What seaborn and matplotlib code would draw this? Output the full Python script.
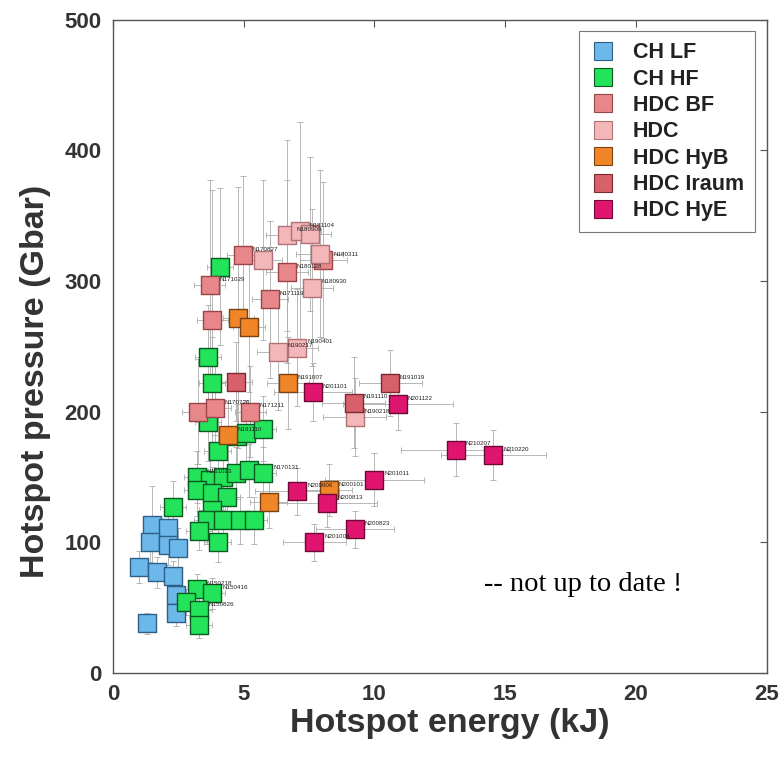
import numpy as np
import pandas as pd
import matplotlib
matplotlib.use("Agg")
import matplotlib.pyplot as plt
from matplotlib.lines import Line2D
import seaborn as sns

# ---- data: hotspot energy (kJ), hotspot pressure (Gbar) and uncertainties ----
series_names = ["CH LF", "CH HF", "HDC BF", "HDC", "HDC HyB", "HDC Iraum", "HDC HyE"]
series_colors = ["#6CB8EA", "#22E35A", "#E8878A", "#F3B7BA", "#F08628", "#D8606B", "#E0156F"]
edge_colors = ["#2E5F86", "#0B5A22", "#9A4448", "#B07276", "#7A4210", "#7E2830", "#6E0834"]

ch_lf_energy = [1.5, 2.1, 1.4, 2.1, 2.5, 1.0, 1.7, 2.3, 2.4, 2.4, 1.3]
ch_lf_pressure = [113, 111, 100, 98, 96, 81, 77, 74, 60, 46, 38]
ch_lf_xerr = [0.3, 0.3, 0.3, 0.3, 0.3, 0.3, 0.3, 0.3, 0.3, 0.3, 0.3]
ch_lf_yerr = [30, 15, 15, 15, 15, 12, 12, 12, 10, 10, 8]

ch_hf_energy = [4.1, 3.65, 3.8, 3.65, 4.0, 4.75, 5.1, 5.75, 3.2, 3.7, 4.2, 4.7, 5.2, 5.75,
                3.2, 3.8, 4.35, 2.3, 3.8, 3.6, 4.2, 4.85, 5.4, 3.3, 4.0, 3.2, 3.8, 2.8, 3.3, 3.3]
ch_hf_pressure = [311, 242, 222, 192, 170, 181, 184, 187, 150, 148, 150, 153, 155, 153,
                  140, 138, 135, 127, 125, 117, 117, 117, 117, 109, 100, 64, 61, 54, 48, 37]
ch_hf_xerr = [0.5] * 30
ch_hf_yerr = [60, 40, 35, 30, 30, 25, 25, 25, 20, 20, 20, 20, 20, 20,
              20, 20, 20, 20, 18, 18, 18, 18, 18, 15, 15, 12, 12, 10, 10, 10]

hdc_bf_energy = [4.98, 3.7, 3.8, 6.65, 6.0, 8.05, 3.25, 3.9, 5.25]
hdc_bf_pressure = [320, 297, 270, 307, 286, 316, 200, 203, 200]
hdc_bf_xerr = [0.6, 0.6, 0.6, 0.8, 0.7, 0.9, 0.6, 0.6, 0.6]
hdc_bf_yerr = [60, 80, 100, 70, 60, 60, 40, 35, 35]

hdc_energy = [6.65, 7.15, 7.55, 5.75, 7.6, 6.3, 7.05, 9.25, 7.9]
hdc_pressure = [335, 338, 336, 316, 295, 246, 249, 196, 321]
hdc_xerr = [0.8, 0.8, 0.8, 0.7, 0.8, 0.8, 0.8, 1.2, 0.9]
hdc_yerr = [73, 84, 59, 61, 60, 45, 45, 30, 64]

hyb_energy = [4.8, 5.2, 6.7, 4.4, 5.95, 8.25]
hyb_pressure = [272, 265, 222, 182, 131, 140]
hyb_xerr = [0.6, 0.6, 0.8, 0.6, 0.7, 0.9]
hyb_yerr = [100, 50, 35, 25, 20, 20]

iraum_energy = [10.6, 9.2, 4.7]
iraum_pressure = [222, 207, 223]
iraum_xerr = [1.2, 1.2, 0.6]
iraum_yerr = [25, 35, 30]

hye_energy = [7.65, 10.9, 13.1, 14.55, 10.0, 7.05, 8.2, 9.25, 7.7]
hye_pressure = [215, 206, 171, 167, 148, 139, 130, 110, 100]
hye_xerr = [1.5, 2.1, 2.1, 2.0, 1.9, 1.6, 1.9, 1.5, 1.2]
hye_yerr = [22, 20, 20, 19, 20, 18, 18, 14, 14]

shot_labels = {
    "HDC BF": ["N170827", "N171029", "", "N180128", "N171119", "N180311", "", "N170726", "N171211"],
    "HDC": ["N180909", "N181104", "", "", "N180930", "N190217", "N190401", "N190218", ""],
    "HDC HyB": ["", "", "N191007", "N191110", "", "N200101"],
    "HDC Iraum": ["N191019", "N191110", ""],
    "HDC HyE": ["N201101", "N201122", "N210207", "N210220", "N201011", "N200906", "N200813", "N200823", "N201004"],
    "CH HF": ["", "", "", "", "", "", "", "", "N161023", "", "", "", "", "N170131",
              "", "", "", "", "", "", "", "", "", "", "", "N150218", "N150416", "", "N150826", ""],
}

groups = [
    ("CH LF", ch_lf_energy, ch_lf_pressure, ch_lf_xerr, ch_lf_yerr),
    ("CH HF", ch_hf_energy, ch_hf_pressure, ch_hf_xerr, ch_hf_yerr),
    ("HDC BF", hdc_bf_energy, hdc_bf_pressure, hdc_bf_xerr, hdc_bf_yerr),
    ("HDC", hdc_energy, hdc_pressure, hdc_xerr, hdc_yerr),
    ("HDC HyB", hyb_energy, hyb_pressure, hyb_xerr, hyb_yerr),
    ("HDC Iraum", iraum_energy, iraum_pressure, iraum_xerr, iraum_yerr),
    ("HDC HyE", hye_energy, hye_pressure, hye_xerr, hye_yerr),
]

frames = []
for name, xe, ye, xr, yr in groups:
    frames.append(pd.DataFrame({"series": name, "energy": xe, "pressure": ye,
                                "xerr": xr, "yerr": yr}))
df = pd.concat(frames, ignore_index=True)

# ---- figure ----
sns.set_theme(style="white")
plt.rcParams["font.family"] = ["Liberation Sans", "DejaVu Sans"]

fig = plt.figure(figsize=(7.84, 7.57), dpi=100)
ax = fig.add_axes([0.144, 0.111, 0.834, 0.863])

# error bars first, beneath the markers
ax.errorbar(df["energy"], df["pressure"], xerr=df["xerr"], yerr=df["yerr"],
            fmt="none", ecolor="#ABABAB", elinewidth=0.7, capsize=2.5,
            capthick=0.7, alpha=0.85, zorder=1)

palette = dict(zip(series_names, series_colors))
edges = dict(zip(series_names, edge_colors))
for name in series_names:
    sub = df[df["series"] == name]
    sns.scatterplot(data=sub, x="energy", y="pressure", ax=ax, marker="s", s=180,
                    color=palette[name], edgecolor=edges[name], linewidth=1.0,
                    legend=False, zorder=3)

# shot-number annotations
for name, labels in shot_labels.items():
    sub = df[df["series"] == name].reset_index(drop=True)
    for i, lab in enumerate(labels):
        if lab:
            ax.annotate(lab, (sub.loc[i, "energy"], sub.loc[i, "pressure"]),
                        xytext=(7, 3), textcoords="offset points",
                        fontsize=4.5, color="#222222", zorder=4)

ax.set_xlim(0, 25)
ax.set_ylim(0, 500)
ax.set_xticks([0, 5, 10, 15, 20, 25])
ax.set_yticks([0, 100, 200, 300, 400, 500])
ax.tick_params(direction="in", length=5, width=0.8, top=True, right=True,
               labelsize=16, labelcolor="#333333", color="#555555", pad=8)
for lab in ax.get_xticklabels() + ax.get_yticklabels():
    lab.set_fontweight("bold")
for sp in ax.spines.values():
    sp.set_color("#555555")
    sp.set_linewidth(1.0)

ax.set_xlabel("Hotspot energy (kJ)", fontsize=24.5, fontweight="bold", color="#333333", labelpad=2)
ax.set_ylabel("Hotspot pressure (Gbar)", fontsize=24.5, fontweight="bold", color="#333333", labelpad=10)
ax.xaxis.label.set_x(0.515)
ax.yaxis.label.set_y(0.447)

handles = [Line2D([0], [0], marker="s", linestyle="none", markersize=13,
                  markerfacecolor=c, markeredgecolor=e, markeredgewidth=0.8)
           for c, e in zip(series_colors, edge_colors)]
leg = ax.legend(handles, series_names, loc="upper right", bbox_to_anchor=(0.982, 0.982),
                borderaxespad=0, frameon=True, fancybox=False, edgecolor="#777777",
                framealpha=1, prop={"weight": "bold", "size": 15.5}, handletextpad=0.8,
                labelspacing=0.25, borderpad=0.5, handlelength=1.2)
leg.get_frame().set_linewidth(0.8)
for t in leg.get_texts():
    t.set_color("#222222")

ax.text(0.567, 0.125, "-- not up to date !", transform=ax.transAxes,
        fontsize=20.5, family=["Liberation Serif", "DejaVu Serif"], color="black")

fig.savefig("out.png", dpi=100)
